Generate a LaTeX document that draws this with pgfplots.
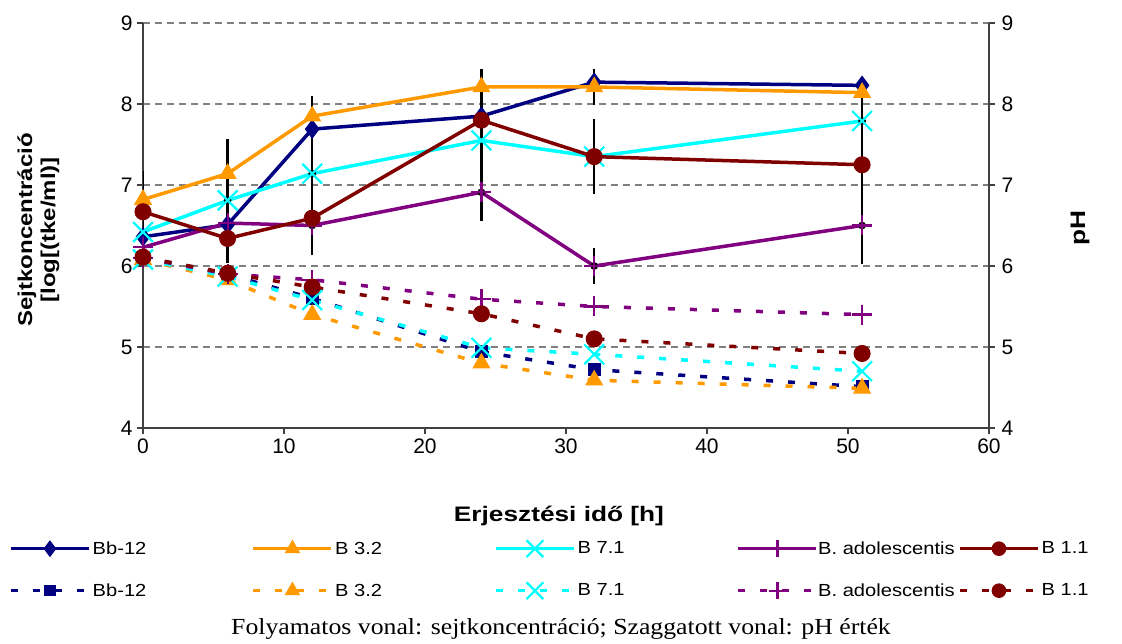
\documentclass[border=0pt]{standalone}
\usepackage{pgfplots}
\pgfplotsset{compat=1.18}
\usepackage{fontspec}
\setmainfont{Liberation Sans}
\newfontfamily\lgfont{Liberation Sans}[FakeStretch=1.15]
\newfontfamily\ylfont{Liberation Sans}[FakeStretch=1.2]
\newfontfamily\lbfont{Liberation Sans}[FakeStretch=1.25]
\newfontfamily\capfont{Liberation Serif}[FakeStretch=1.12]
\definecolor{cNavy}{RGB}{0,0,128}
\definecolor{cOrange}{RGB}{255,153,0}
\definecolor{cCyan}{RGB}{0,255,255}
\definecolor{cPurple}{RGB}{128,0,128}
\definecolor{cRed}{RGB}{128,0,0}
\newcommand{\lgc}[3]{\hspace*{#1}\makebox[#2][l]{#3}}
\begin{document}
\begin{tikzpicture}
\useasboundingbox (0,0) rectangle (1122pt,644pt);
\begin{axis}[
  at={(143pt,216pt)}, anchor=south west,
  scale only axis, width=846pt, height=405pt,
  xmin=0, xmax=60, ymin=4, ymax=9,
  xtick={0,10,...,60}, ytick={4,...,9},
  axis x line*=bottom, axis y line*=left,
  axis line style={line width=1.5pt, black!75, -},
  tick style={line width=1.5pt, black!75},
  tick align=outside, major tick length=6pt,
  ymajorgrids,
  grid style={gray, line width=1.8pt, dash pattern=on 7pt off 5pt},
  /pgf/number format/assume math mode=true,
  ticklabel style={font=\fontsize{21}{24}\selectfont},
  xticklabel style={yshift=-1pt},
  yticklabel style={xshift=-1pt},
  xlabel={Erjesztési idő [h]},
  xlabel style={font=\lbfont\bfseries\fontsize{21}{25}\selectfont, at={(axis description cs:0.4917,-0.218)}, anchor=center},
  ylabel={Sejtkoncentráció\\{[}log[(tke/ml)]},
  ylabel style={font=\ylfont\bfseries\fontsize{20}{23}\selectfont, align=center, at={(axis description cs:-0.1235,0.489)}, anchor=center},
  legend columns=5,
  legend style={at={(axis description cs:-0.1584,-0.2765)}, anchor=north west, draw=none, fill=none,
    inner sep=0pt, column sep=0pt, row sep=25pt,
    nodes={inner sep=0pt, anchor=west},
    font=\lgfont\fontsize{17.5}{20}\selectfont},
  legend cell align=left,
  legend image code/.code={\draw[mark repeat=2,mark phase=2,#1, every mark/.append style={scale=0.85}] plot coordinates {(0pt,0pt) (39pt,0pt) (78pt,0pt)};},
  every axis plot/.append style={line width=3.5pt},
]
% error bars (drawn first, below markers)
\addplot[only marks, mark=none, forget plot, black,
  error bars/.cd, y dir=both, y explicit,
  error bar style={line width=2.3pt, black, solid},
  error mark options={mark size=8pt, line width=2.3pt, black, solid}]
  table[x=x, y=y, y error=e]{
x y e
0 6.82 0.22
0 6.67 0.40
6 7.14 0.33
6 6.81 0.14
6 6.51 0.38
12 7.85 0.15
12 7.69 0.26
12 7.14 0.20
12 6.59 0.36
12 6.50 0.25
24 8.21 0.12
24 7.80 0.50
24 6.91 0.25
32 8.21 0.12
32 7.35 0.36
32 7.33 0.21
32 6.00 0.12
51 7.79 0.27
51 7.25 0.17
51 6.50 0.38
};
% solid: cell concentration
\addplot[cNavy, mark=diamond*, mark size=9pt, mark options={line width=1pt}] coordinates {(0,6.36)(6,6.51)(12,7.69)(24,7.85)(32,8.27)(51,8.23)};
\addlegendentry{\lgc{2pt}{159pt}{Bb-12}}
\addplot[cOrange, mark=triangle*, mark size=9.5pt, mark options={line width=1pt}] coordinates {(0,6.82)(6,7.14)(12,7.85)(24,8.21)(32,8.21)(51,8.14)};
\addlegendentry{\lgc{2pt}{159pt}{B 3.2}}
\addplot[cCyan, mark=x, mark size=14pt, mark options={line width=2.2pt}] coordinates {(0,6.42)(6,6.81)(12,7.14)(24,7.55)(32,7.35)(51,7.79)};
\addlegendentry{\lgc{2pt}{159pt}{B 7.1}}
\addplot[cPurple, mark=+, mark size=10pt, mark options={line width=2.2pt}] coordinates {(0,6.23)(6,6.53)(12,6.50)(24,6.91)(32,6.00)(51,6.50)};
\addlegendentry{\lgc{0pt}{140pt}{B. adolescentis}}
\addplot[cRed, mark=*, mark size=8pt, mark options={line width=1pt}] coordinates {(0,6.67)(6,6.34)(12,6.59)(24,7.80)(32,7.35)(51,7.25)};
\addlegendentry{\lgc{2pt}{50pt}{B 1.1}}
% dashed: pH
\addplot[cNavy, dash pattern=on 7pt off 15pt, mark=square*, mark size=6pt, mark options={solid, line width=1pt}] coordinates {(0,6.10)(6,5.90)(12,5.60)(24,4.94)(32,4.72)(51,4.51)};
\addlegendentry{\lgc{2pt}{159pt}{Bb-12}}
\addplot[cOrange, dash pattern=on 7pt off 15pt, mark=triangle*, mark size=9.5pt, mark options={solid, line width=1pt}] coordinates {(0,6.08)(6,5.83)(12,5.40)(24,4.80)(32,4.59)(51,4.49)};
\addlegendentry{\lgc{2pt}{159pt}{B 3.2}}
\addplot[cCyan, dash pattern=on 7pt off 15pt, mark=x, mark size=14pt, mark options={solid, line width=2.2pt}] coordinates {(0,6.08)(6,5.87)(12,5.58)(24,4.99)(32,4.91)(51,4.70)};
\addlegendentry{\lgc{2pt}{159pt}{B 7.1}}
\addplot[cPurple, dash pattern=on 7pt off 15pt, mark=+, mark size=10pt, mark options={solid, line width=2.2pt}] coordinates {(0,6.10)(6,5.90)(12,5.83)(24,5.59)(32,5.50)(51,5.40)};
\addlegendentry{\lgc{0pt}{140pt}{B. adolescentis}}
\addplot[cRed, dash pattern=on 7pt off 15pt, mark=*, mark size=8pt, mark options={solid, line width=1pt}] coordinates {(0,6.11)(6,5.91)(12,5.74)(24,5.41)(32,5.10)(51,4.92)};
\addlegendentry{\lgc{2pt}{50pt}{B 1.1}}
\end{axis}
\begin{axis}[
  at={(143pt,216pt)}, anchor=south west,
  scale only axis, width=846pt, height=405pt,
  xmin=0, xmax=60, ymin=4, ymax=9,
  hide x axis, axis y line*=right,
  ytick={4,...,9},
  axis line style={line width=1.5pt, black!75, -},
  tick style={line width=1.5pt, black!75},
  tick align=outside, major tick length=6pt,
  /pgf/number format/assume math mode=true,
  ticklabel style={font=\fontsize{21}{24}\selectfont},
  yticklabel style={xshift=3pt},
  ylabel={pH},
  ylabel style={font=\lbfont\bfseries\fontsize{21}{25}\selectfont, at={(axis description cs:1.1076,0.494)}, anchor=center},
]
\end{axis}
\node[font=\capfont\fontsize{23}{27}\selectfont] at (561pt,15pt) {Folyamatos vonal: sejtkoncentráció; Szaggatott vonal: pH érték};
\end{tikzpicture}
\end{document}
